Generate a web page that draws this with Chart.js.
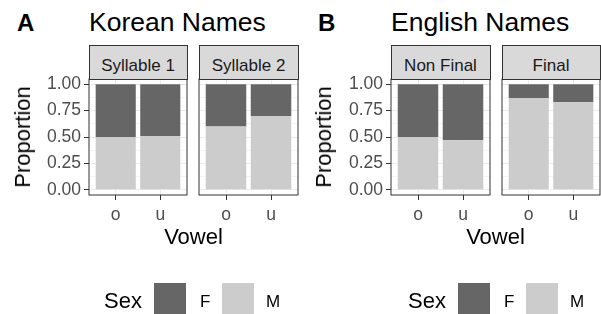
<!DOCTYPE html>
<html>
<head>
<meta charset="utf-8">
<script src="https://cdn.jsdelivr.net/npm/chart.js@4.4.0/dist/chart.umd.min.js"></script>
<style>
  body { margin: 0; background: #fff; }
  #fig { position: relative; width: 601px; height: 314px; overflow: hidden; background: #fff;
         font-family: "Liberation Sans", Arial, sans-serif; }
  #fig canvas { position: absolute; }
  .t { position: absolute; white-space: nowrap; }
  .strip { position: absolute; box-sizing: border-box; background: #d9d9d9; border: 1px solid #333; }
  .key { position: absolute; width: 32px; height: 32px; }
</style>
</head>
<body>
<div id="fig"></div>
<script>
// data
const vowels = ['o', 'u']
const sexes = ['F', 'M']
const sexColors = ['#666666', '#cccccc']
const yTicks = [0, 0.25, 0.5, 0.75, 1]

const koreanFacets = ['Syllable 1', 'Syllable 2']
const koreanF = [[0.50, 0.49], [0.40, 0.30]]
const koreanM = [[0.50, 0.51], [0.60, 0.70]]

const englishFacets = ['Non Final', 'Final']
const englishF = [[0.50, 0.53], [0.13, 0.17]]
const englishM = [[0.50, 0.47], [0.87, 0.83]]

const fig = document.getElementById('fig')
const panelTop = 79
const panelBottom = 195

const groups = [
  { letter: 'A', title: 'Korean Names', facets: koreanFacets, f: koreanF, m: koreanM,
    x0: 0, panels: [[89, 187], [199, 298]], legendX: 104 },
  { letter: 'B', title: 'English Names', facets: englishFacets, f: englishF, m: englishM,
    x0: 301, panels: [[391, 490], [502, 600]], legendX: 408 }
]

// minor + major horizontal grid lines like ggplot
const yGrid = []
yTicks.forEach((v, i) => {
  yGrid.push(v)
  if (i < yTicks.length - 1) yGrid.push((v + yTicks[i + 1]) / 2)
})
const isMajor = v => yTicks.includes(v)

function addText(str, x, baseline, size, opts = {}) {
  const d = document.createElement('div')
  d.className = 't'
  d.textContent = str
  d.style.fontSize = size + 'px'
  d.style.lineHeight = size + 'px'
  d.style.left = x + 'px'
  d.style.top = (baseline - 0.8465 * size) + 'px'
  d.style.color = opts.color || '#000'
  if (opts.bold) d.style.fontWeight = 'bold'
  if (opts.align === 'center') d.style.transform = 'translateX(-50%)'
  fig.appendChild(d)
  return d
}

function addRotated(str, cx, cy, size) {
  const d = document.createElement('div')
  d.className = 't'
  d.textContent = str
  d.style.fontSize = size + 'px'
  d.style.lineHeight = size + 'px'
  d.style.left = cx + 'px'
  d.style.top = cy + 'px'
  d.style.transform = 'translate(-50%, -50%) rotate(-90deg)'
  fig.appendChild(d)
}

const panelBorder = {
  id: 'panelBorder',
  afterDatasetsDraw(chart) {
    const { ctx, chartArea: a } = chart
    ctx.save()
    ctx.strokeStyle = '#333333'
    ctx.lineWidth = 1
    ctx.strokeRect(a.left, a.top, a.width, a.height)
    ctx.restore()
  }
}

const tickFont = { family: '"Liberation Sans", Arial, sans-serif', size: 17.5 }

function makePanel(g, k) {
  const [left, right] = g.panels[k]
  const withAxis = k === 0
  const cLeft = withAxis ? g.x0 : left - 8
  const cRight = Math.min(right + 6, 601)
  const cTop = 60
  const cBottom = 235

  const canvas = document.createElement('canvas')
  canvas.width = cRight - cLeft
  canvas.height = cBottom - cTop
  canvas.style.left = cLeft + 'px'
  canvas.style.top = cTop + 'px'
  fig.appendChild(canvas)

  new Chart(canvas, {
    type: 'bar',
    data: {
      datasets: [
        { label: sexes[1], backgroundColor: sexColors[1],
          data: vowels.map((v, i) => ({ x: i + 1, y: g.m[k][i] })) },
        { label: sexes[0], backgroundColor: sexColors[0],
          data: vowels.map((v, i) => ({ x: i + 1, y: g.f[k][i] })) }
      ]
    },
    options: {
      responsive: false,
      animation: false,
      layout: { padding: { top: panelTop - cTop, right: cRight - right, left: withAxis ? 0 : left - cLeft, bottom: 0 } },
      plugins: { legend: { display: false }, tooltip: { enabled: false } },
      datasets: { bar: { barPercentage: 0.9, categoryPercentage: 1, borderWidth: 0 } },
      scales: {
        x: {
          type: 'linear', stacked: true, min: 0.4, max: 2.6, bounds: 'data', offset: false,
          afterBuildTicks: s => { s.ticks = vowels.map((v, i) => ({ value: i + 1 })) },
          afterFit: s => { s.height = cBottom - panelBottom },
          ticks: { autoSkip: false, maxRotation: 0, padding: 5, color: '#4d4d4d', font: tickFont,
                   callback: v => vowels[v - 1] },
          grid: { offset: false, color: '#ebebeb', lineWidth: 1, tickColor: '#333333', tickLength: 5, tickWidth: 1 },
          border: { display: false }
        },
        y: {
          type: 'linear', stacked: true, min: -0.05, max: 1.05, bounds: 'data',
          afterBuildTicks: s => { s.ticks = yGrid.map(v => ({ value: v })) },
          afterFit: s => { s.width = withAxis ? left - cLeft : 0 },
          ticks: { display: withAxis, autoSkip: false, padding: 3, color: '#4d4d4d', font: tickFont,
                   callback: v => isMajor(v) ? v.toFixed(2) : '' },
          grid: {
            color: '#ebebeb',
            lineWidth: c => isMajor(c.tick.value) ? 1 : 0.5,
            drawTicks: withAxis,
            tickLength: 5,
            tickWidth: 1,
            tickColor: c => isMajor(c.tick.value) ? '#333333' : 'rgba(0,0,0,0)'
          },
          border: { display: false }
        }
      }
    },
    plugins: [panelBorder]
  })

  // facet strip
  const s = document.createElement('div')
  s.className = 'strip'
  s.style.left = left + 'px'
  s.style.top = '45px'
  s.style.width = (right - left + 1) + 'px'
  s.style.height = '35px'
  fig.appendChild(s)
  addText(g.facets[k], (left + right) / 2, 71, 17, { align: 'center', color: '#1a1a1a' })
}

groups.forEach(g => {
  addText(g.letter, g.x0 + 17, 31, 24, { bold: true })
  addText(g.title, g.panels[0][0], 31.5, 26.5)
  makePanel(g, 0)
  makePanel(g, 1)
  addText('Vowel', (g.panels[0][0] + g.panels[1][1]) / 2, 245, 22, { align: 'center' })
  addRotated('Proportion', g.x0 + 23.4, 137, 22)

  // legend
  addText('Sex', g.legendX, 309, 22)
  sexes.forEach((sx, i) => {
    const key = document.createElement('div')
    key.className = 'key'
    key.style.left = (g.legendX + 50 + i * 68) + 'px'
    key.style.top = '283px'
    key.style.background = sexColors[i]
    fig.appendChild(key)
    addText(sx, g.legendX + 96 + i * 66, 307, 17)
  })
})
</script>
</body>
</html>
